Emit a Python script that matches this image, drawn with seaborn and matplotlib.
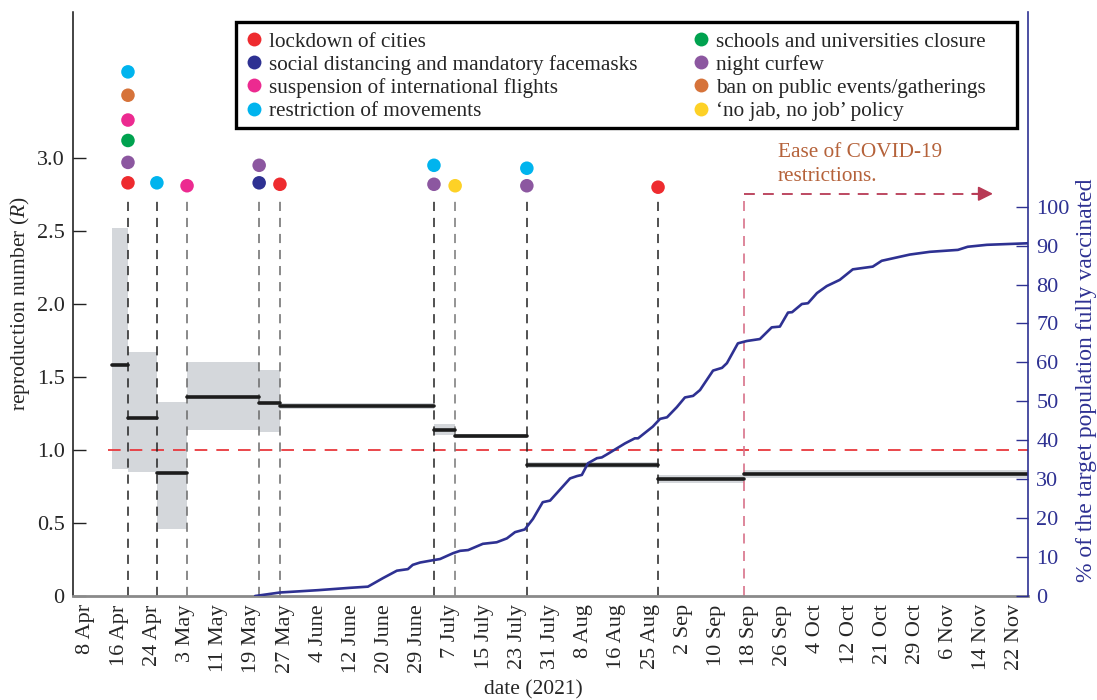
import numpy as np
import pandas as pd
import matplotlib
matplotlib.use("Agg")
import matplotlib.pyplot as plt
from matplotlib.lines import Line2D
from matplotlib.patches import Rectangle
import seaborn as sns

# ---------------- data (x = days since 8 Apr 2021) ----------------
tick_labels = ['8 Apr', '16 Apr', '24 Apr', '3 May', '11 May', '19 May', '27 May',
               '4 June', '12 June', '20 June', '29 June', '7 July', '15 July',
               '23 July', '31 July', '8 Aug', '16 Aug', '25 Aug', '2 Sep', '10 Sep',
               '18 Sep', '26 Sep', '4 Oct', '12 Oct', '21 Oct', '29 Oct', '6 Nov',
               '14 Nov', '22 Nov']
tick_span_days = 228

seg_breaks = [6.4, 10.3, 17.4, 24.8, 42.5, 47.6, 85.4, 90.6, 108.2, 140.4, 161.5, 231.2]
R_mean = [1.58, 1.22, 0.84, 1.36, 1.32, 1.30, 1.14, 1.095, 0.895, 0.80, 0.835]
R_low = [0.87, 0.85, 0.46, 1.14, 1.12, 1.28, 1.10, 1.08, 0.88, 0.775, 0.805]
R_high = [2.52, 1.67, 1.33, 1.60, 1.55, 1.325, 1.175, 1.11, 0.915, 0.83, 0.866]

event_days = [10.3, 17.4, 24.8, 42.5, 47.6, 85.4, 90.6, 108.2, 140.4]

measures = ['lockdown of cities', 'social distancing and mandatory facemasks',
            'suspension of international flights', 'restriction of movements',
            'schools and universities closure', 'night curfew',
            'ban on public events/gatherings', '\u2018no jab, no job\u2019 policy']
measure_colors = ['#EE2B2F', '#2E3192', '#EC2A90', '#00B4EE',
                  '#00A24F', '#8C57A0', '#D6733A', '#FDD126']

marker_day = [10.3] * 6 + [17.4, 24.8, 42.5, 42.5, 47.6, 85.4, 85.4, 90.6, 108.2, 108.2, 140.4]
marker_R = [2.83, 2.97, 3.12, 3.26, 3.43, 3.59, 2.83, 2.81, 2.83, 2.95, 2.82,
            2.82, 2.95, 2.81, 2.81, 2.93, 2.80]
marker_idx = [0, 5, 4, 2, 6, 3, 3, 2, 1, 5, 0, 5, 3, 7, 5, 3, 0]

vax_day = [41.5, 47.6, 57.0, 64.8, 69.2, 72.9, 76.3, 79.0, 80.2, 82.0, 85.2, 86.9,
           90.1, 91.8, 93.8, 97.4, 100.8, 103.3, 105.3, 107.7, 109.7, 112.1, 113.9,
           118.8, 120.5, 121.7, 123.2, 125.4, 126.6, 127.9, 132.3, 134.7, 135.5,
           139.1, 140.9, 142.6, 145.0, 147.0, 149.0, 150.7, 153.9, 156.1, 157.3,
           160.0, 162.2, 165.4, 168.3, 170.3, 172.3, 173.3, 175.7, 177.2, 179.4,
           181.8, 183.8, 185.0, 188.2, 193.1, 195.3, 202.2, 207.1, 214.0, 216.4,
           221.1, 231.2]
vax_pct = [0.0, 0.9, 1.5, 2.1, 2.4, 4.6, 6.5, 6.9, 8.0, 8.6, 9.2, 9.5, 11.0, 11.6,
           11.8, 13.4, 13.8, 14.8, 16.4, 17.1, 19.8, 24.1, 24.5, 30.2, 30.8, 31.1,
           34.1, 35.4, 35.6, 36.4, 39.2, 40.5, 40.5, 43.5, 45.5, 45.9, 48.5, 51.0,
           51.4, 52.9, 57.9, 58.6, 59.8, 64.9, 65.5, 66.0, 69.0, 69.2, 72.8, 72.9,
           75.0, 75.2, 77.8, 79.6, 80.6, 81.2, 83.9, 84.6, 86.1, 87.7, 88.4, 88.9,
           89.7, 90.2, 90.6]

ease_day = 161.5
ease_arrow_end = 222.6
ease_level = 2.755

# ---------------- style ----------------
sns.set_theme(style="white")
plt.rcParams['font.family'] = ['Liberation Serif', 'DejaVu Serif']
plt.rcParams['mathtext.fontset'] = 'custom'
plt.rcParams['mathtext.rm'] = 'Liberation Serif'
plt.rcParams['mathtext.it'] = 'Liberation Serif:italic'
FS = 15
TFS = 16
NAVY = '#2E3192'

fig = plt.figure(figsize=(10.97, 7.0), dpi=100)
ax = fig.add_axes([73 / 1097, 1 - 596 / 700, (1028 - 73) / 1097, (596 - 12) / 700])

# shaded intervals
for i in range(len(R_mean)):
    x0, x1 = seg_breaks[i], seg_breaks[i + 1]
    ax.fill_between([x0, x1], [R_low[i]] * 2, [R_high[i]] * 2,
                    color='#D4D7DB', lw=0, zorder=1)

# R step segments
seg_rows = []
for i, r in enumerate(R_mean):
    seg_rows.append({'seg': i, 'day': seg_breaks[i], 'R': r})
    seg_rows.append({'seg': i, 'day': seg_breaks[i + 1], 'R': r})
df_seg = pd.DataFrame(seg_rows)
sns.lineplot(data=df_seg, x='day', y='R', units='seg', estimator=None, sort=False,
             color='#1c1c1c', lw=2.6, ax=ax, legend=False, zorder=3)

# R = 1 reference line
ax.plot([5.4, 231.2], [1, 1], color='#E8383D', lw=1.3, dashes=(7, 5), zorder=2)

# event vertical lines
vcols = ['#222222', '#222222', '#6a6a6a', '#6a6a6a', '#6a6a6a',
         '#222222', '#777777', '#222222', '#222222']
for d, c in zip(event_days, vcols):
    ax.plot([d, d], [0, 2.74], color=c, lw=1.1, dashes=(6, 4.5), zorder=2)

# event markers
df_mk = pd.DataFrame({'day': marker_day, 'R': marker_R,
                      'measure': [measures[i] for i in marker_idx]})
sns.scatterplot(data=df_mk, x='day', y='R', hue='measure', hue_order=measures,
                palette=dict(zip(measures, measure_colors)), s=95, linewidth=0,
                ax=ax, legend=False, zorder=5)

# ease annotation
ax.plot([ease_day, ease_day], [0, ease_level], color='#D8728A', lw=1.2,
        dashes=(6, 4.5), zorder=2)
ax.plot([ease_day, ease_arrow_end - 2], [ease_level, ease_level], color='#B83A55',
        lw=1.3, dashes=(6, 4.5), zorder=2)
ax.annotate('', xy=(ease_arrow_end, ease_level), xytext=(ease_arrow_end - 5, ease_level),
            arrowprops=dict(arrowstyle='-|>', color='#B83A55', lw=1.3,
                            mutation_scale=22, shrinkA=0, shrinkB=0))
ax.text(169.8, 3.105, 'Ease of COVID-19\nrestrictions.', color='#B5623A',
        fontsize=FS + 0.3, va='top', ha='left', linespacing=1.38)

# axes formatting (left)
ax.set_xlim(-3.19, 231.2)
ax.set_ylim(0, 4)
ax.set_xticks(np.linspace(0, tick_span_days, len(tick_labels)))
ax.set_xticklabels(tick_labels, rotation=90, fontsize=TFS)
ax.set_yticks([0, 0.5, 1.0, 1.5, 2.0, 2.5, 3.0])
ax.set_yticklabels(['0', '0.5', '1.0', '1.5', '2.0', '2.5', '3.0'], fontsize=TFS)
ax.tick_params(axis='x', direction='in', length=8, width=1, color='#333333', pad=6)
ax.tick_params(axis='y', direction='in', length=9, width=1, color='#222222', pad=6)
ax.set_xlabel('date (2021)', fontsize=FS + 0.5)
ax.xaxis.set_label_coords(0.482, -0.145)
ax.set_ylabel('reproduction number ($\\mathit{R}$)', fontsize=FS + 0.5)
ax.yaxis.set_label_coords(-0.043, 0.5)
ax.spines['top'].set_visible(False)
ax.spines['right'].set_visible(False)
ax.spines['left'].set_color('#111111')
ax.spines['left'].set_linewidth(1.1)
ax.spines['bottom'].set_color('#8a8a8a')
ax.spines['bottom'].set_linewidth(2)

# right axis: vaccination
ax2 = ax.twinx()
df_vax = pd.DataFrame({'day': vax_day, 'pct': vax_pct})
sns.lineplot(data=df_vax, x='day', y='pct', color=NAVY, lw=1.9, ax=ax2, zorder=4)
ax2.set_ylim(0, 150)
ax2.set_xlim(-3.19, 231.2)
ax2.set_yticks(np.arange(0, 101, 10))
ax2.set_yticklabels([str(v) for v in range(0, 101, 10)], fontsize=TFS, color=NAVY)
ax2.tick_params(axis='y', direction='in', length=9, width=1, color=NAVY, pad=6)
ax2.set_ylabel('% of the target population fully vaccinated', fontsize=17, color=NAVY)
ax2.yaxis.set_label_coords(1.050, 0.37)
for s in ['top', 'left', 'bottom']:
    ax2.spines[s].set_visible(False)
ax2.spines['right'].set_color(NAVY)
ax2.spines['right'].set_linewidth(1.2)

# legend frame box + legend
frame = Rectangle((0.1707, 0.8014), 0.8178, 0.1815, transform=ax.transAxes,
                  facecolor='white', edgecolor='black', lw=2.4, zorder=9)
ax.add_patch(frame)
handles = [Line2D([0], [0], marker='o', color='none', markerfacecolor=c,
                  markeredgewidth=0, markersize=10) for c in measure_colors]
leg = ax.legend(handles, measures, ncol=2, loc='upper left',
                bbox_to_anchor=(0.1785, 0.966), borderaxespad=0, fontsize=15.3,
                frameon=False, labelspacing=0.15, handletextpad=0.2,
                handlelength=1.0, columnspacing=2.5, borderpad=0)
leg.set_zorder(10)

fig.savefig('out.png', dpi=100)
